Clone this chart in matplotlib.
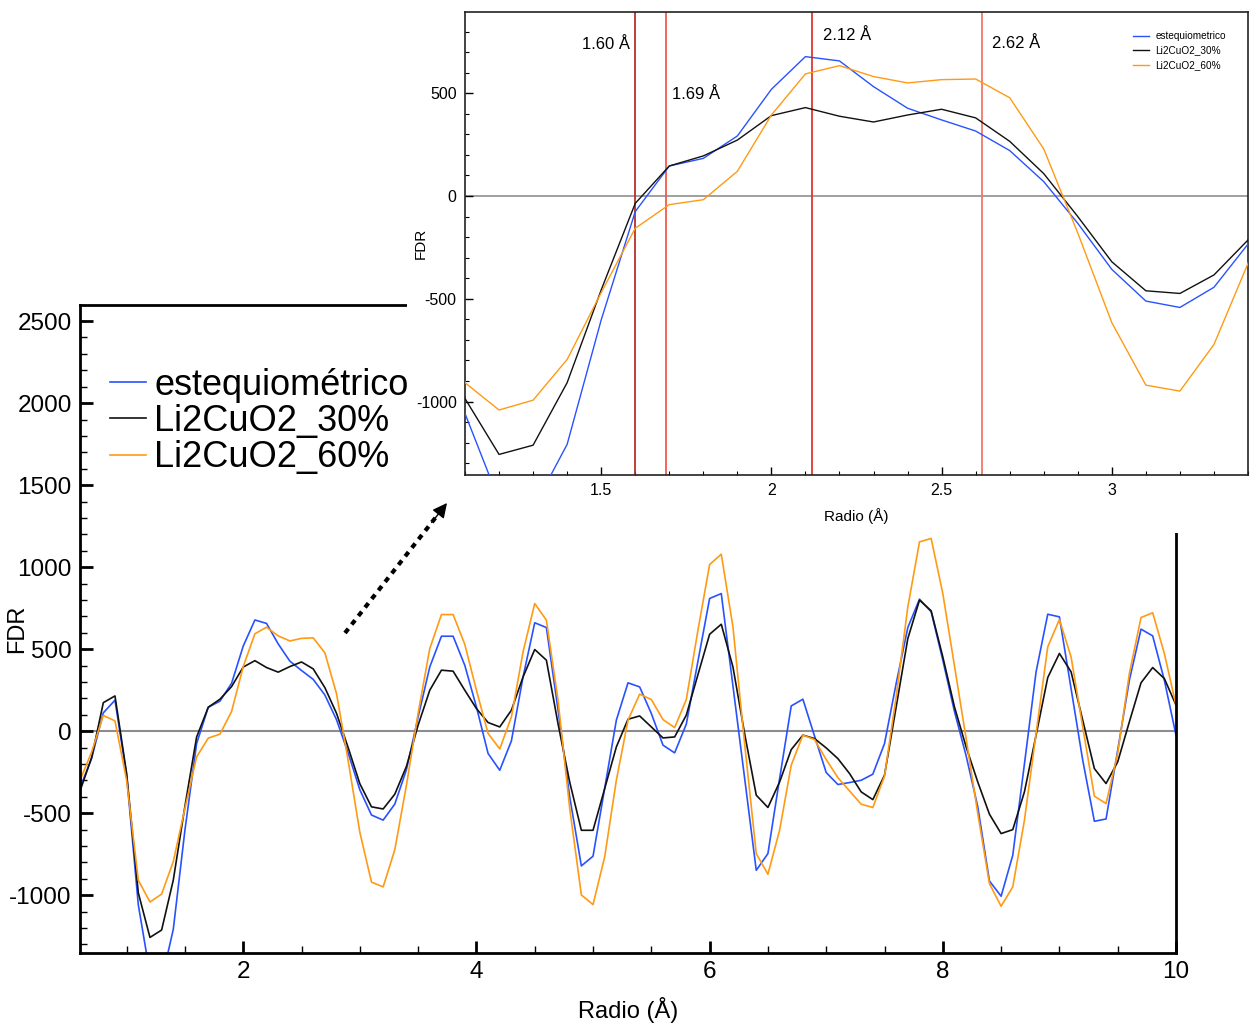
import numpy as np
import matplotlib
matplotlib.use("Agg")
import matplotlib.pyplot as plt
from matplotlib.patches import Rectangle, FancyArrowPatch
from matplotlib.lines import Line2D
from matplotlib.ticker import MultipleLocator, FormatStrFormatter

plt.rcParams['font.family'] = ['Liberation Sans', 'DejaVu Sans']
plt.rcParams['axes.unicode_minus'] = False

# ---------------- data ----------------
radio = np.round(np.arange(0.6, 10.0001, 0.1), 1)

estequiometrico = [
    -346, -165, 112, 189, -270, -1058, -1480, -1520, -1208, -603,
    -76, 146, 183, 292, 519, 678, 657, 532, 427, 370,
    316, 221, 70, -133, -357, -511, -542, -444, -234, 87,
    392, 579, 579, 402, 148, -136, -238, -59, 331, 661,
    632, 130, -400, -821, -762, -348, 67, 295, 270, 108,
    -85, -132, 43, 427, 809, 839, 276, -285, -848, -746,
    -290, 154, 195, -30, -252, -325, -313, -299, -262, -75,
    291, 632, 805, 728, 433, 120, -150, -461, -913, -1006,
    -756, -200, 362, 713, 697, 260, -177, -549, -535, -116,
    311, 622, 581, 311, -24]

li2cuo2_30 = [
    -365, -160, 174, 215, -258, -985, -1257, -1212, -908, -457,
    -36, 146, 195, 272, 391, 430, 388, 360, 394, 422,
    380, 266, 109, -100, -320, -461, -474, -384, -214, 37,
    250, 372, 366, 250, 138, 53, 26, 128, 331, 498,
    433, 45, -310, -604, -604, -350, -96, 73, 93, 26,
    -41, -35, 98, 345, 591, 652, 392, -14, -390, -465,
    -310, -112, -24, -45, -102, -167, -258, -370, -417, -268,
    148, 565, 799, 734, 453, 148, -96, -310, -506, -624,
    -600, -370, -24, 327, 474, 362, 67, -228, -319, -187,
    57, 295, 388, 321, 159]

li2cuo2_60 = [
    -300, -126, 96, 63, -300, -908, -1041, -993, -795, -470,
    -157, -42, -18, 120, 394, 594, 634, 581, 550, 566,
    569, 478, 229, -180, -616, -920, -949, -722, -328, 110,
    504, 711, 711, 530, 250, -14, -108, 87, 484, 778,
    677, 189, -470, -998, -1057, -766, -299, 67, 226, 193,
    71, 22, 193, 616, 1016, 1079, 636, -75, -746, -872,
    -604, -207, -24, -51, -173, -283, -364, -445, -465, -274,
    210, 758, 1154, 1175, 839, 398, -45, -502, -929, -1067,
    -949, -543, -14, 514, 681, 453, 26, -396, -441, -136,
    352, 693, 722, 474, 159]

series_labels_main = ['estequiométrico', 'Li2CuO2_30%', 'Li2CuO2_60%']
series_labels_inset = ['estequiometrico', 'Li2CuO2_30%', 'Li2CuO2_60%']
series_colors = ['#2952ff', '#111111', '#ff9a14']

marker_positions = [1.60, 1.69, 2.12, 2.62]
marker_labels = ['1.60 Å', '1.69 Å', '2.12 Å', '2.62 Å']
marker_colors = ['#b8302a', '#f05a50', '#e0382e', '#f07a68']
marker_label_xy = [(1.444, 735), (1.709, 496), (2.153, 783), (2.647, 740)]

series = [estequiometrico, li2cuo2_30, li2cuo2_60]

W, H = 1250, 1024
fig = plt.figure(figsize=(W / 100, H / 100), dpi=100)

# ---------------- main axes ----------------
ax = fig.add_axes([80 / W, 1 - 953 / H, (1176 - 80) / W, (953 - 305) / H])
ax.axhline(0, color='#8c8c8c', lw=1.5, zorder=1)
for ys, lab, c in zip(series, series_labels_main, series_colors):
    ax.plot(radio, ys, color=c, lw=1.2, label=lab, zorder=2)
ax.set_xlim(0.6, 10.0)
ax.set_ylim(-1352, 2598)
ax.xaxis.set_major_locator(MultipleLocator(2))
ax.xaxis.set_minor_locator(MultipleLocator(0.5))
ax.yaxis.set_major_locator(MultipleLocator(500))
ax.yaxis.set_minor_locator(MultipleLocator(100))
ax.tick_params(which='both', direction='in', top=False, right=False)
ax.tick_params(which='major', length=9, width=2, labelsize=17.5, pad=6)
ax.tick_params(which='minor', length=5, width=1)
for s in ax.spines.values():
    s.set_linewidth(2)
ax.set_xlabel('Radio (Å)', fontsize=17)
ax.set_ylabel('FDR', fontsize=17)
ax.xaxis.set_label_coords(0.5, -0.068)
ax.yaxis.set_label_coords(-0.047, 0.5)

leg = ax.legend(loc='upper left', bbox_to_anchor=(110 / W, 1 - 368 / H),
                bbox_transform=fig.transFigure, frameon=False, fontsize=26,
                handlelength=1.0, handletextpad=0.22, labelspacing=0.03,
                borderpad=0, borderaxespad=0)

# white panel behind the inset
fig.add_artist(Rectangle((407 / W, 1 - 533 / H), 1 - 407 / W, 533 / H,
                         transform=fig.transFigure, facecolor='white',
                         edgecolor='none', zorder=1))

# ---------------- inset ----------------
axin = fig.add_axes([465 / W, 1 - 475 / H, 783 / W, 463 / H], zorder=2)
axin.axhline(0, color='#999999', lw=1.3, zorder=1)
for ys, lab, c in zip(series, series_labels_inset, series_colors):
    axin.plot(radio, ys, color=c, lw=1.0, label=lab, zorder=3)
for xv, c in zip(marker_positions, marker_colors):
    axin.axvline(xv, color=c, lw=1.3, zorder=2)
for (tx, ty), t in zip(marker_label_xy, marker_labels):
    axin.text(tx, ty, t, fontsize=12, va='center', ha='left', zorder=4)
axin.set_xlim(1.1, 3.4)
axin.set_ylim(-1357, 895)
axin.xaxis.set_major_locator(MultipleLocator(0.5))
axin.xaxis.set_minor_locator(MultipleLocator(0.1))
axin.xaxis.set_major_formatter(FormatStrFormatter('%g'))
axin.yaxis.set_major_locator(MultipleLocator(500))
axin.yaxis.set_minor_locator(MultipleLocator(100))
axin.tick_params(which='both', direction='in', top=False, right=False)
axin.tick_params(which='major', length=6, width=1, labelsize=11.5, pad=6)
axin.tick_params(which='minor', length=3, width=0.8)
for s in axin.spines.values():
    s.set_linewidth(1.2)
    s.set_color('#222222')
axin.set_xlabel('Radio (Å)', fontsize=11)
axin.set_ylabel('FDR', fontsize=11)
axin.xaxis.set_label_coords(0.5, -0.071)
axin.yaxis.set_label_coords(-0.047, 0.5)
axin.legend(loc='upper right', bbox_to_anchor=(1226 / W, 1 - 31 / H),
            bbox_transform=fig.transFigure, frameon=False, fontsize=7.2,
            handlelength=1.6, handletextpad=0.7, labelspacing=0.45,
            borderpad=0, borderaxespad=0)

# ---------------- dashed arrow ----------------
x0, y0 = 345 / W, 1 - 633 / H
x1, y1 = 447 / W, 1 - 503 / H
fig.add_artist(Line2D([x0, x0 + (x1 - x0) * 0.9], [y0, y0 + (y1 - y0) * 0.9],
                      transform=fig.transFigure, color='black', lw=3,
                      linestyle=(0, (1.3, 1.3)), zorder=3))
fig.add_artist(FancyArrowPatch((x0 + (x1 - x0) * 0.85, y0 + (y1 - y0) * 0.85),
                               (x1, y1), transform=fig.transFigure,
                               arrowstyle='-|>', color='black', lw=1,
                               mutation_scale=22, shrinkA=0, shrinkB=0,
                               zorder=3))

fig.savefig('out.png', dpi=100)
